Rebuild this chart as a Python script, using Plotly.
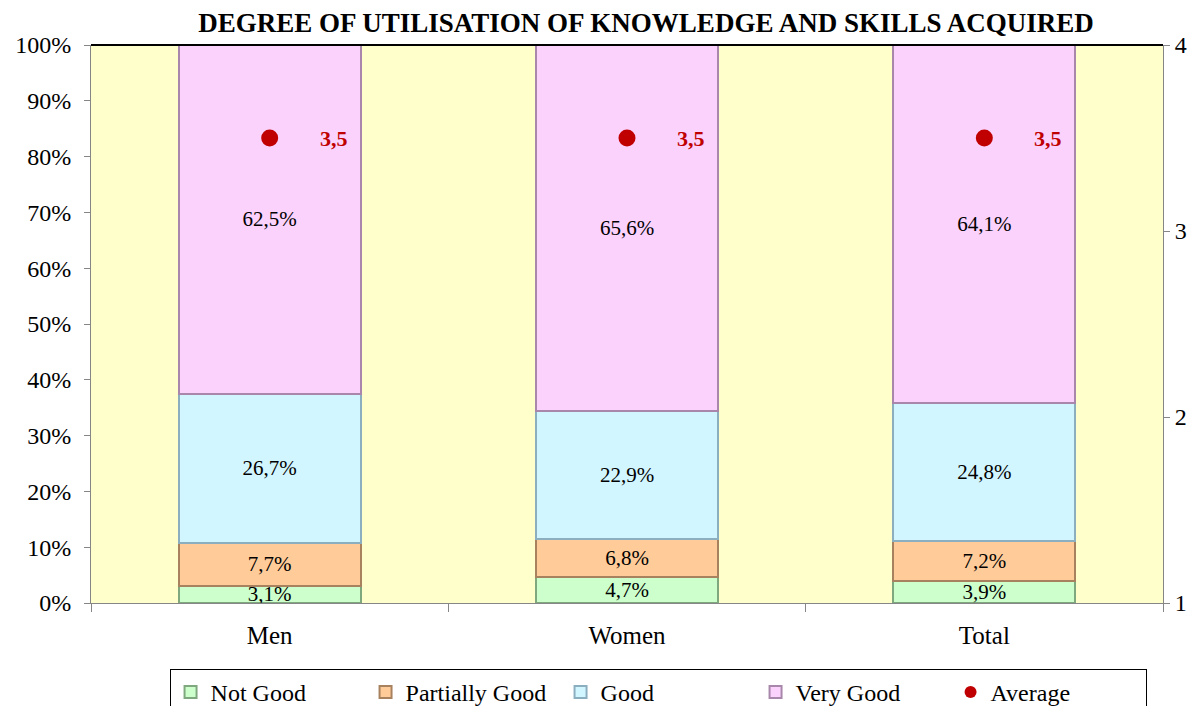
import plotly.graph_objects as go

# Data
groups = ["Men", "Women", "Total"]
not_good = [3.1, 4.7, 3.9]
partially_good = [7.7, 6.8, 7.2]
good = [26.7, 22.9, 24.8]
very_good = [62.5, 65.6, 64.1]
average = [3.5, 3.5, 3.5]

series = [
    ("Not Good", not_good, "#CCFFCC", "#7FA87F"),
    ("Partially Good", partially_good, "#FFCC99", "#A8825E"),
    ("Good", good, "#D2F6FF", "#8CAFC0"),
    ("Very Good", very_good, "#FAD2FC", "#A987AC"),
]

font_family = "Liberation Serif, Times New Roman, serif"

fig = go.Figure()

for name, vals, fill, edge in series:
    fig.add_trace(
        go.Bar(
            x=groups,
            y=vals,
            name=name,
            marker=dict(color=fill, line=dict(color=edge, width=2)),
            text=[f"{v:.1f}%".replace(".", ",") for v in vals],
            textposition="inside",
            insidetextanchor="middle",
            constraintext="none",
            textfont=dict(size=21, color="#000000", family=font_family),
            width=0.51,
        )
    )

# Average on secondary axis
fig.add_trace(
    go.Scatter(
        x=groups,
        y=average,
        name="Average",
        mode="markers",
        marker=dict(color="#C00000", size=17),
        yaxis="y2",
    )
)

for g, a in zip(groups, average):
    fig.add_annotation(
        x=g,
        y=a,
        yref="y2",
        text=f"<b>{a:.1f}</b>".replace(".", ","),
        showarrow=False,
        xshift=64,
        font=dict(size=22, color="#C00000", family=font_family),
    )

# page body has an 8px margin, so the figure is sized a bit smaller
fig.update_layout(
    barmode="stack",
    width=1191,
    height=698,
    margin=dict(l=83, r=36, t=37, b=103),
    paper_bgcolor="white",
    plot_bgcolor="#FFFFCC",
    font=dict(family=font_family, size=24, color="#000000"),
    title=dict(
        text="<b>DEGREE OF UTILISATION OF KNOWLEDGE AND SKILLS ACQUIRED</b>",
        x=0.5357,
        xanchor="center",
        y=0.979,
        yanchor="middle",
        font=dict(size=27, family=font_family),
    ),
    bargap=0.49,
    showlegend=True,
    legend=dict(
        orientation="h",
        traceorder="normal",
        xref="container",
        yref="container",
        x=0.5458,
        xanchor="center",
        y=0.053,
        yanchor="top",
        bordercolor="#000000",
        borderwidth=1,
        entrywidth=150,
        entrywidthmode="pixels",
        font=dict(size=24, family=font_family),
        itemsizing="constant",
    ),
    xaxis=dict(
        showline=True,
        linecolor="#868686",
        linewidth=1,
        ticks="outside",
        tickson="boundaries",
        ticklen=8,
        tickcolor="#868686",
        tickfont=dict(size=25),
        ticklabelstandoff=10,
        automargin=False,
        mirror=False,
    ),
    yaxis=dict(
        range=[0, 100],
        tickvals=[0, 10, 20, 30, 40, 50, 60, 70, 80, 90, 100],
        ticktext=[f"{v}%" for v in range(0, 101, 10)],
        showgrid=False,
        showline=True,
        linecolor="#868686",
        linewidth=1,
        ticks="outside",
        ticklen=6,
        tickcolor="#868686",
        tickfont=dict(size=24),
        ticklabelstandoff=8,
        automargin=False,
        zeroline=False,
    ),
    yaxis2=dict(
        overlaying="y",
        side="right",
        range=[1, 4],
        tickvals=[1, 2, 3, 4],
        showgrid=False,
        showline=True,
        linecolor="#868686",
        linewidth=1,
        ticks="outside",
        ticklen=6,
        tickcolor="#868686",
        tickfont=dict(size=24),
        automargin=False,
        zeroline=False,
    ),
)

# Dark top border of the plot area
fig.add_shape(
    type="line",
    xref="paper",
    yref="paper",
    x0=0,
    x1=1,
    y0=1,
    y1=1,
    line=dict(color="#000000", width=2),
)

fig.write_html("out.html")
